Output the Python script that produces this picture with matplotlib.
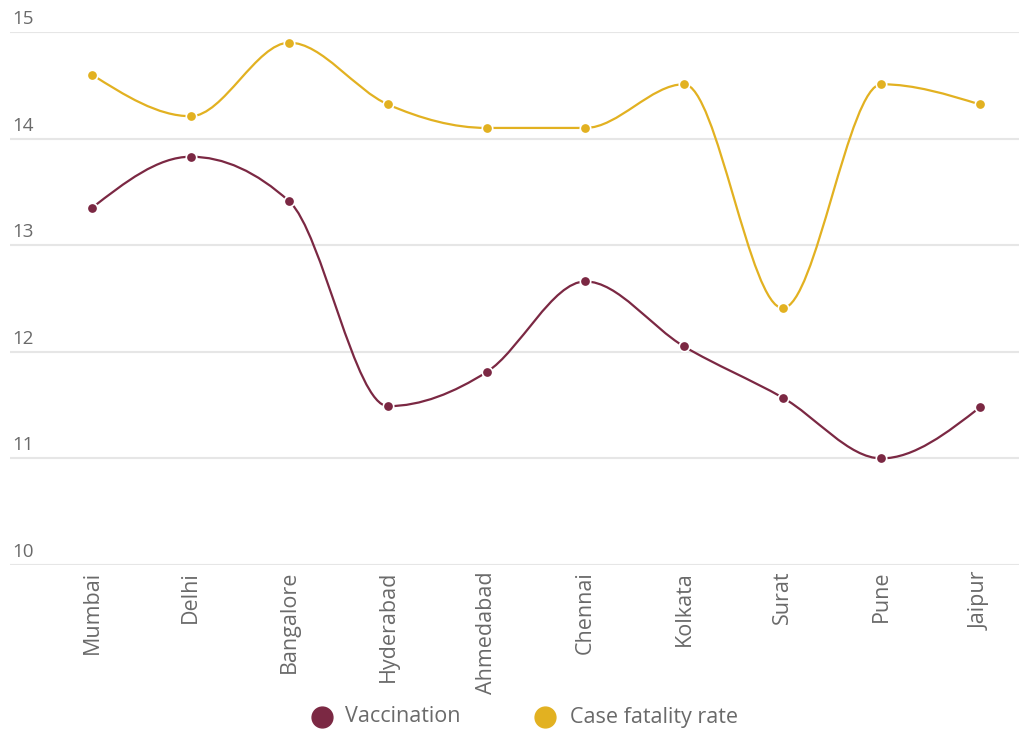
import numpy as np
import matplotlib.pyplot as plt
from matplotlib.path import Path
from matplotlib.patches import PathPatch
from matplotlib.lines import Line2D
import matplotlib.transforms as mtransforms

plt.rcParams['font.family'] = ['Open Sans', 'DejaVu Sans']

cities = ['Mumbai', 'Delhi', 'Bangalore', 'Hyderabad', 'Ahmedabad',
          'Chennai', 'Kolkata', 'Surat', 'Pune', 'Jaipur']
vaccination = [13.35, 13.83, 13.41, 11.49, 11.81, 12.66, 12.05, 11.57, 11.0, 11.48]
fatality = [14.6, 14.21, 14.9, 14.32, 14.1, 14.1, 14.51, 12.41, 14.51, 14.32]
y_ticks = [10, 11, 12, 13, 14, 15]
series_names = ['Vaccination', 'Case fatality rate']

VAC_COLOR = '#7b2843'
CFR_COLOR = '#e2b121'
TEXT_COLOR = '#6a6a6a'
FS_NUM = 13.5
FS_TXT = 15.5


def monotone_path(x, y):
    # monotone cubic curve (like d3 curveMonotoneX) as bezier path
    x = np.asarray(x, float)
    y = np.asarray(y, float)
    n = len(x)
    h = np.diff(x)
    s = np.diff(y) / h
    t = np.zeros(n)
    for i in range(1, n - 1):
        p = (s[i - 1] * h[i] + s[i] * h[i - 1]) / (h[i - 1] + h[i])
        t[i] = (np.sign(s[i - 1]) + np.sign(s[i])) * min(abs(s[i - 1]), abs(s[i]), 0.5 * abs(p))
    t[0] = (3 * s[0] - t[1]) / 2
    t[-1] = (3 * s[-1] - t[-2]) / 2
    verts = [(x[0], y[0])]
    codes = [Path.MOVETO]
    for i in range(n - 1):
        dx = h[i] / 3
        verts += [(x[i] + dx, y[i] + dx * t[i]),
                  (x[i + 1] - dx, y[i + 1] - dx * t[i + 1]),
                  (x[i + 1], y[i + 1])]
        codes += [Path.CURVE4] * 3
    return Path(verts, codes)


fig = plt.figure(figsize=(10.2, 7.33), dpi=100)
ax = fig.add_axes([10 / 1020, 168 / 733, 1 - 10 / 1020, 533 / 733])

xs = np.arange(len(cities))
for vals, color in [(vaccination, VAC_COLOR), (fatality, CFR_COLOR)]:
    ax.add_patch(PathPatch(monotone_path(xs, vals), facecolor='none',
                           edgecolor=color, lw=1.6, zorder=3))
    ax.plot(xs, vals, 'o', color=color, ms=7.5, mec='white', mew=1.2, zorder=4)

ax.set_xlim(-0.831, 9.405)
ax.set_ylim(10, 15)
for v in y_ticks:
    ax.axhline(v, color='#e6e6e6', lw=1.5, zorder=1)

ax.set_yticks([])
ax.set_xticks([])
for sp in ax.spines.values():
    sp.set_visible(False)

# y tick labels sitting above gridlines
trans_y = mtransforms.blended_transform_factory(ax.transAxes, ax.transData)
off = mtransforms.ScaledTranslation(2 / 100, 4 / 100, fig.dpi_scale_trans)
for v in y_ticks:
    ax.text(0, v, str(v), transform=trans_y + off, ha='left', va='bottom',
            fontsize=FS_NUM, color=TEXT_COLOR)

# rotated category labels
trans_x = mtransforms.blended_transform_factory(ax.transData, ax.transAxes)
off_x = mtransforms.ScaledTranslation(0, -6 / 100, fig.dpi_scale_trans)
for i, c in enumerate(cities):
    ax.text(i, 0, c, transform=trans_x + off_x, rotation=90, ha='center', va='top',
            fontsize=FS_TXT, color=TEXT_COLOR)

# legend drawn by hand below the chart
leg_y = 1 - 717 / 733
for name, color, mx, tx in [(series_names[0], VAC_COLOR, 322, 345),
                            (series_names[1], CFR_COLOR, 545, 570)]:
    fig.add_artist(Line2D([mx / 1020], [leg_y], ls='none', marker='o', ms=15,
                          color=color, transform=fig.transFigure))
    fig.text(tx / 1020, leg_y, name, ha='left', va='center', fontsize=FS_TXT,
             color=TEXT_COLOR)

fig.savefig('out.png', dpi=100)
